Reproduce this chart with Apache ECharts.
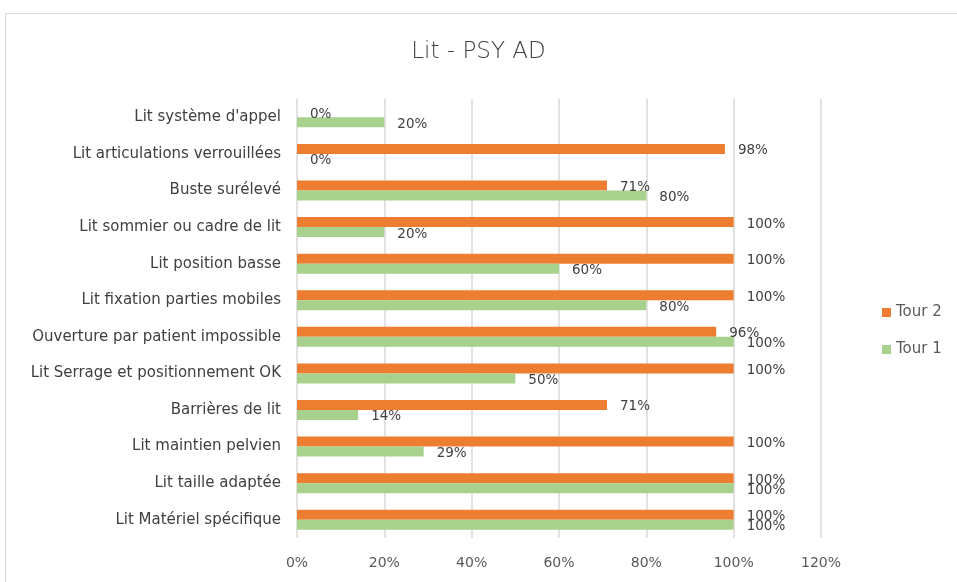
<!DOCTYPE html>
<html>
<head>
<meta charset="utf-8">
<script src="https://cdn.jsdelivr.net/npm/echarts@6/dist/echarts.min.js"></script>
<style>
  html, body { margin: 0; padding: 0; background: #fff; }
  #frame { position: absolute; left: 5px; top: 13px; width: 1000px; height: 600px; border: 1px solid #d9d9d9; }
  #main { position: absolute; left: 0; top: 0; width: 957px; height: 582px; }
</style>
</head>
<body>
<div id="frame"></div>
<div id="main"></div>
<script>
const categories = [
    'Lit Matériel spécifique',
    'Lit taille adaptée',
    'Lit maintien pelvien',
    'Barrières de lit',
    'Lit Serrage et positionnement OK',
    'Ouverture par patient impossible',
    'Lit fixation parties mobiles',
    'Lit position basse',
    'Lit sommier ou cadre de lit',
    'Buste surélevé',
    'Lit articulations verrouillées',
    "Lit système d'appel"
];
const tour1 = [100, 100, 29, 14, 50, 100, 80, 60, 20, 80, 0, 20];
const tour2 = [100, 100, 100, 71, 100, 96, 100, 100, 100, 71, 98, 0];

const FONT = 'DejaVu Sans';
const chart = echarts.init(document.getElementById('main'));

function barSeries(name, data, color) {
    return {
        name: name,
        type: 'bar',
        data: data,
        barWidth: 10,
        barGap: '0%',
        itemStyle: { color: color },
        label: {
            show: true,
            position: 'right',
            distance: 13,
            offset: [0, 2],
            formatter: '{c}%',
            color: '#404040',
            fontSize: 13.5,
            fontFamily: FONT
        }
    };
}

const option = {
    animation: false,
    title: {
        text: 'Lit - PSY AD',
        left: 'center',
        top: 36,
        textStyle: {
            color: '#404040',
            fontSize: 23,
            fontWeight: 200,
            fontFamily: FONT
        }
    },
    legend: {
        orient: 'vertical',
        left: 877,
        top: 300,
        itemWidth: 9,
        itemHeight: 9,
        itemGap: 22,
        icon: 'rect',
        data: ['Tour 2', 'Tour 1'],
        textStyle: { color: '#595959', fontSize: 15, fontFamily: FONT }
    },
    grid: {
        left: 297,
        right: 136,
        top: 99,
        bottom: 44,
        containLabel: false
    },
    xAxis: {
        type: 'value',
        min: 0,
        max: 120,
        interval: 20,
        axisLabel: {
            formatter: '{value}%',
            color: '#595959',
            fontSize: 14,
            margin: 18,
            fontFamily: FONT
        },
        axisLine: { show: false },
        axisTick: { show: false },
        splitLine: { lineStyle: { color: '#d9d9d9', width: 1.5 } }
    },
    yAxis: {
        type: 'category',
        data: categories,
        axisLine: { show: false },
        axisTick: { show: false },
        axisLabel: {
            color: '#404040',
            fontSize: 15,
            margin: 16,
            fontFamily: FONT
        }
    },
    series: [
        barSeries('Tour 2', tour2, '#ED7D31'),
        barSeries('Tour 1', tour1, '#A9D18E')
    ]
};

chart.setOption(option);
</script>
</body>
</html>
